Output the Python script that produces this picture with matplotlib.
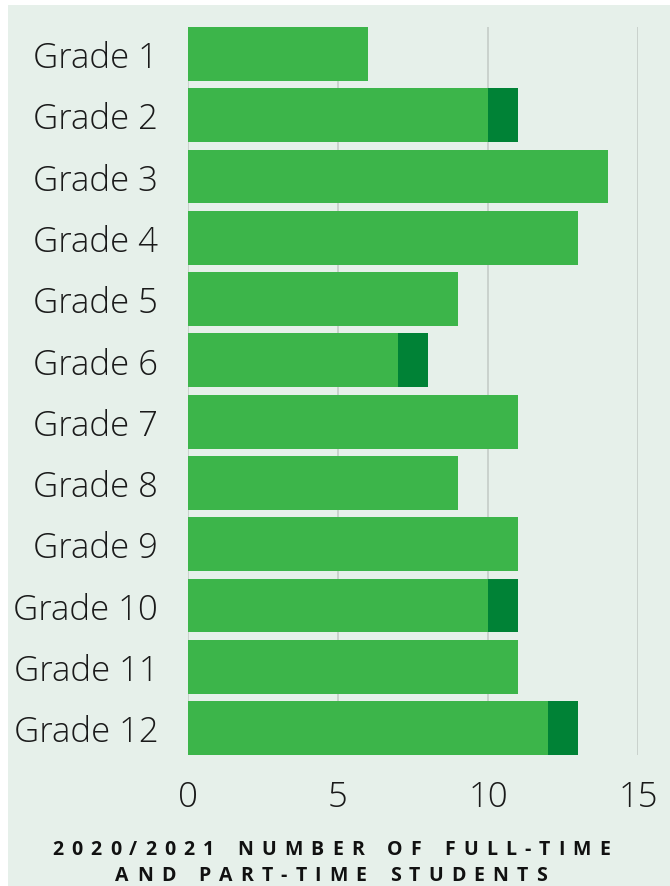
import matplotlib
matplotlib.use("Agg")
import matplotlib.pyplot as plt
from matplotlib.patches import Rectangle

grades = ["Grade 1", "Grade 2", "Grade 3", "Grade 4", "Grade 5", "Grade 6",
          "Grade 7", "Grade 8", "Grade 9", "Grade 10", "Grade 11", "Grade 12"]
full_time = [6, 10, 14, 13, 9, 7, 11, 9, 11, 10, 11, 12]
part_time = [0, 1, 0, 0, 0, 1, 0, 0, 0, 1, 0, 1]
x_ticks = [0, 5, 10, 15]
title_lines = ["2020/2021 NUMBER OF FULL-TIME", "AND PART-TIME STUDENTS"]

BG = "#e6f0ea"
LIGHT = "#3cb54a"
DARK = "#008236"
GRID = "#c5cdc8"

plt.rcParams['font.family'] = ['Open Sans', 'DejaVu Sans']

fig = plt.figure(figsize=(6.7, 8.87), dpi=100)
fig.patch.set_facecolor("white")
fig.add_artist(Rectangle((8/670, 0), 1, 1 - 6/887, transform=fig.transFigure,
                         facecolor=BG, edgecolor="none", zorder=-10))

ax = fig.add_axes([188/670, (887-756)/887, 450/670, 728/887])
ax.set_facecolor("none")
y = list(range(len(grades)))
ax.barh(y, full_time, height=0.88, color=LIGHT, zorder=3)
ax.barh(y, part_time, left=full_time, height=0.88, color=DARK, zorder=3)

ax.set_xlim(0, 15)
ax.set_ylim(len(grades) - 0.56, -0.44)
ax.set_xticks(x_ticks)
ax.set_xticklabels([str(t) for t in x_ticks], fontsize=25, color="#1a1a1a", fontweight="light")
ax.set_yticks(y)
ax.set_yticklabels(grades, fontsize=25, color="#1a1a1a", fontweight="light")
ax.tick_params(axis="y", length=0, pad=21.5)
ax.tick_params(axis="x", length=0, pad=18)
ax.grid(axis="x", color=GRID, linewidth=1.2, zorder=1)
ax.set_axisbelow(True)
for s in ax.spines.values():
    s.set_visible(False)

# letter-spaced title, placed character by character
renderer = fig.canvas.get_renderer()
W, H = 670, 887
target_width = 558.0
props = dict(fontsize=14, fontweight="bold", color="#111111", va="center", ha="left")

def measure(line):
    widths = []
    for ch in line:
        if ch == " ":
            t = fig.text(0, 0, "n", **props)
            w = t.get_window_extent(renderer).width * 0.55
        else:
            t = fig.text(0, 0, ch, **props)
            w = t.get_window_extent(renderer).width
        t.remove()
        widths.append(w)
    return widths

w1 = measure(title_lines[0])
tracking = (target_width - sum(w1)) / (len(title_lines[0]) - 1)

for line, ypix in zip(title_lines, [850, 876]):
    widths = measure(line)
    total = sum(widths) + tracking * (len(line) - 1)
    x = 331 - total / 2
    for ch, w in zip(line, widths):
        if ch != " ":
            fig.text(x / W, 1 - ypix / H, ch, **props)
        x += w + tracking

fig.savefig("out.png", dpi=100, facecolor=fig.get_facecolor())
